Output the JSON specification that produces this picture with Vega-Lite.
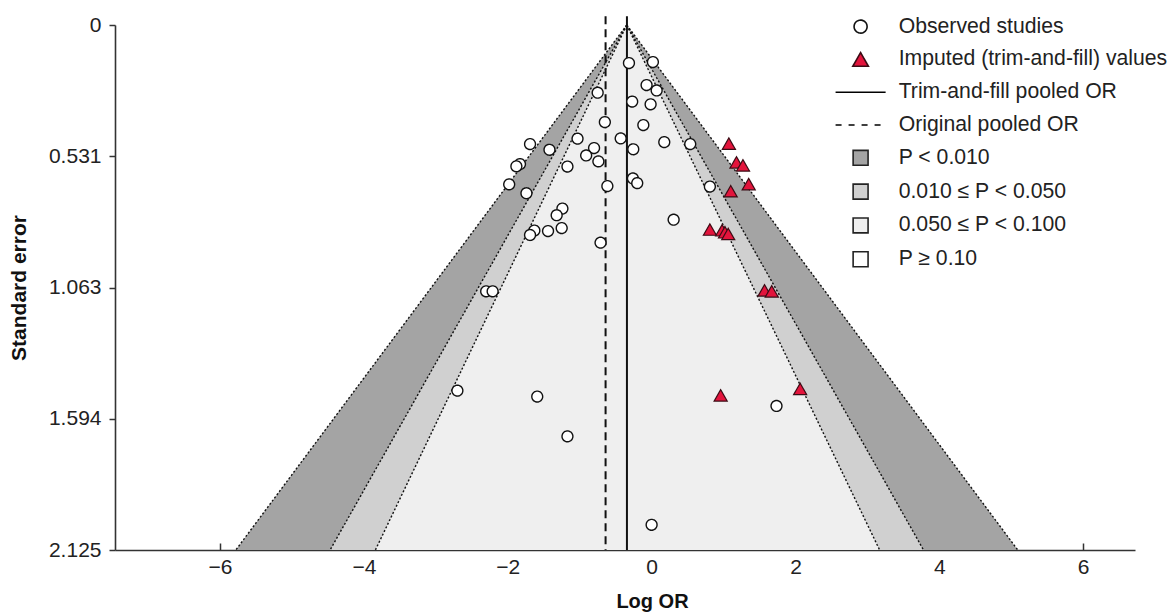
{
  "$schema": "https://vega.github.io/schema/vega-lite/v6.json",
  "autosize": "none",
  "width": 1020,
  "height": 525,
  "padding": {"left": 115, "top": 25, "right": 36, "bottom": 62},
  "background": "white",
  "config": {
    "view": {"stroke": null},
    "font": "Liberation Sans",
    "axis": {
      "grid": false,
      "domainColor": "#333333",
      "domainWidth": 1.6,
      "tickColor": "#333333",
      "tickWidth": 1.5,
      "labelFont": "Liberation Sans",
      "labelFontSize": 21,
      "labelColor": "#222222",
      "titleFont": "Liberation Sans",
      "titleFontSize": 20.5,
      "titleFontWeight": "bold",
      "titleColor": "#111111"
    },
    "legend": {
      "orient": "none",
      "legendX": 735,
      "legendY": -9,
      "padding": 0,
      "rowPadding": 10.8,
      "symbolSize": 169,
      "labelFont": "Liberation Sans",
      "labelFontSize": 21.2,
      "labelColor": "#222222",
      "labelOffset": 27.5,
      "labelLimit": 400,
      "symbolStrokeWidth": 1.6
    }
  },
  "datasets": {
    "bands": [
      {"band": "p01", "se": 0, "lo": -0.345, "hi": -0.345},
      {"band": "p01", "se": 2.125, "lo": -5.78, "hi": 5.09},
      {"band": "p05", "se": 0, "lo": -0.345, "hi": -0.345},
      {"band": "p05", "se": 2.125, "lo": -4.47, "hi": 3.78},
      {"band": "p10", "se": 0, "lo": -0.345, "hi": -0.345},
      {"band": "p10", "se": 2.125, "lo": -3.84, "hi": 3.17}
    ],
    "edges": [
      {"x": -0.345, "se": 0, "xend": -5.78, "seend": 2.125},
      {"x": -0.345, "se": 0, "xend": 5.09, "seend": 2.125},
      {"x": -0.345, "se": 0, "xend": -4.47, "seend": 2.125},
      {"x": -0.345, "se": 0, "xend": 3.78, "seend": 2.125},
      {"x": -0.345, "se": 0, "xend": -3.84, "seend": 2.125},
      {"x": -0.345, "se": 0, "xend": 3.17, "seend": 2.125}
    ],
    "pooled": [
      {"type": "Trim-and-fill pooled OR", "logor": -0.343, "setop": -0.035, "sebottom": 2.125},
      {"type": "Original pooled OR", "logor": -0.64, "setop": -0.035, "sebottom": 2.125}
    ],
    "observed": [
      {"type": "Observed studies", "logor": -0.315, "se": 0.154},
      {"type": "Observed studies", "logor": 0.018, "se": 0.150},
      {"type": "Observed studies", "logor": -0.07, "se": 0.243},
      {"type": "Observed studies", "logor": 0.07, "se": 0.265},
      {"type": "Observed studies", "logor": -0.75, "se": 0.274},
      {"type": "Observed studies", "logor": -0.27, "se": 0.310},
      {"type": "Observed studies", "logor": -0.014, "se": 0.321},
      {"type": "Observed studies", "logor": -0.65, "se": 0.393},
      {"type": "Observed studies", "logor": -0.115, "se": 0.405},
      {"type": "Observed studies", "logor": -1.03, "se": 0.460},
      {"type": "Observed studies", "logor": -1.69, "se": 0.482},
      {"type": "Observed studies", "logor": -1.42, "se": 0.505},
      {"type": "Observed studies", "logor": -0.43, "se": 0.459},
      {"type": "Observed studies", "logor": 0.176, "se": 0.474},
      {"type": "Observed studies", "logor": 0.537, "se": 0.482},
      {"type": "Observed studies", "logor": -0.255, "se": 0.503},
      {"type": "Observed studies", "logor": -0.80, "se": 0.498},
      {"type": "Observed studies", "logor": -0.91, "se": 0.528},
      {"type": "Observed studies", "logor": -0.74, "se": 0.552},
      {"type": "Observed studies", "logor": -1.17, "se": 0.573},
      {"type": "Observed studies", "logor": -1.83, "se": 0.563},
      {"type": "Observed studies", "logor": -1.88, "se": 0.572},
      {"type": "Observed studies", "logor": -1.98, "se": 0.645},
      {"type": "Observed studies", "logor": -1.74, "se": 0.681},
      {"type": "Observed studies", "logor": -0.615, "se": 0.652},
      {"type": "Observed studies", "logor": -0.26, "se": 0.621},
      {"type": "Observed studies", "logor": -0.20, "se": 0.640},
      {"type": "Observed studies", "logor": 0.81, "se": 0.654},
      {"type": "Observed studies", "logor": -1.24, "se": 0.743},
      {"type": "Observed studies", "logor": -1.32, "se": 0.770},
      {"type": "Observed studies", "logor": 0.306, "se": 0.788},
      {"type": "Observed studies", "logor": -1.63, "se": 0.832},
      {"type": "Observed studies", "logor": -1.69, "se": 0.850},
      {"type": "Observed studies", "logor": -1.44, "se": 0.834},
      {"type": "Observed studies", "logor": -1.25, "se": 0.822},
      {"type": "Observed studies", "logor": -0.71, "se": 0.881},
      {"type": "Observed studies", "logor": -2.30, "se": 1.078},
      {"type": "Observed studies", "logor": -2.21, "se": 1.078},
      {"type": "Observed studies", "logor": -2.70, "se": 1.480},
      {"type": "Observed studies", "logor": -1.59, "se": 1.504},
      {"type": "Observed studies", "logor": -1.17, "se": 1.665},
      {"type": "Observed studies", "logor": 0.0, "se": 2.023},
      {"type": "Observed studies", "logor": 1.736, "se": 1.542}
    ],
    "imputed": [
      {"type": "Imputed (trim-and-fill) values", "logor": 1.074, "se": 0.480},
      {"type": "Imputed (trim-and-fill) values", "logor": 1.18, "se": 0.556},
      {"type": "Imputed (trim-and-fill) values", "logor": 1.27, "se": 0.568},
      {"type": "Imputed (trim-and-fill) values", "logor": 1.35, "se": 0.644},
      {"type": "Imputed (trim-and-fill) values", "logor": 1.10, "se": 0.673},
      {"type": "Imputed (trim-and-fill) values", "logor": 0.81, "se": 0.828},
      {"type": "Imputed (trim-and-fill) values", "logor": 0.98, "se": 0.831},
      {"type": "Imputed (trim-and-fill) values", "logor": 1.02, "se": 0.839},
      {"type": "Imputed (trim-and-fill) values", "logor": 1.065, "se": 0.846},
      {"type": "Imputed (trim-and-fill) values", "logor": 1.57, "se": 1.074},
      {"type": "Imputed (trim-and-fill) values", "logor": 1.67, "se": 1.078},
      {"type": "Imputed (trim-and-fill) values", "logor": 0.96, "se": 1.499},
      {"type": "Imputed (trim-and-fill) values", "logor": 2.065, "se": 1.473}
    ]
  },
  "encoding": {
    "y": {
      "type": "quantitative",
      "scale": {"domain": [0, 2.125], "reverse": true, "nice": false, "zero": false},
      "axis": {
        "title": "Standard error",
        "titleFontSize": 21,
        "values": [0, 0.531, 1.063, 1.594, 2.125],
        "format": ".3~f",
        "tickSize": 6,
        "labelPadding": 8,
        "titlePadding": 19
      }
    },
    "x": {
      "type": "quantitative",
      "scale": {"domain": [-7.46, 6.72], "nice": false, "zero": false},
      "axis": {
        "title": "Log OR",
        "titleFontSize": 20,
        "titleX": 537,
        "values": [-6, -4, -2, 0, 2, 4, 6],
        "format": "d",
        "tickSize": -7,
        "labelPadding": 13,
        "titlePadding": 14
      }
    }
  },
  "layer": [
    {
      "data": {"name": "bands"},
      "transform": [{"filter": "datum.band === 'p01'"}],
      "mark": {"type": "area", "orient": "horizontal", "color": "#a4a4a4"},
      "encoding": {"y": {"field": "se"}, "x": {"field": "lo"}, "x2": {"field": "hi"}}
    },
    {
      "data": {"name": "bands"},
      "transform": [{"filter": "datum.band === 'p05'"}],
      "mark": {"type": "area", "orient": "horizontal", "color": "#d0d0d0"},
      "encoding": {"y": {"field": "se"}, "x": {"field": "lo"}, "x2": {"field": "hi"}}
    },
    {
      "data": {"name": "bands"},
      "transform": [{"filter": "datum.band === 'p10'"}],
      "mark": {"type": "area", "orient": "horizontal", "color": "#efefef"},
      "encoding": {"y": {"field": "se"}, "x": {"field": "lo"}, "x2": {"field": "hi"}}
    },
    {
      "data": {"name": "edges"},
      "mark": {"type": "rule", "color": "#111111", "strokeWidth": 1.4, "strokeDash": [2, 2]},
      "encoding": {"x": {"field": "x"}, "y": {"field": "se"}, "x2": {"field": "xend"}, "y2": {"field": "seend"}}
    },
    {
      "data": {"name": "pooled"},
      "transform": [{"filter": "datum.type === 'Trim-and-fill pooled OR'"}],
      "mark": {"type": "rule", "color": "#111111", "strokeWidth": 2},
      "encoding": {"x": {"field": "logor"}, "y": {"field": "setop"}, "y2": {"field": "sebottom"}}
    },
    {
      "data": {"name": "pooled"},
      "transform": [{"filter": "datum.type === 'Original pooled OR'"}],
      "mark": {"type": "rule", "color": "#111111", "strokeWidth": 2, "strokeDash": [8, 5]},
      "encoding": {"x": {"field": "logor"}, "y": {"field": "setop"}, "y2": {"field": "sebottom"}}
    },
    {
      "data": {"name": "observed"},
      "mark": {"type": "point", "filled": true, "opacity": 1, "size": 118, "strokeWidth": 1.4},
      "encoding": {
        "x": {"field": "logor"},
        "y": {"field": "se"},
        "shape": {"field": "type", "type": "nominal", "scale": {"domain": ["Observed studies", "Imputed (trim-and-fill) values", "Trim-and-fill pooled OR", "Original pooled OR", "P < 0.010", "0.010 ≤ P < 0.050", "0.050 ≤ P < 0.100", "P ≥ 0.10"], "range": ["M-1,0A1,1 0 1,1 1,0A1,1 0 1,1 -1,0Z", "M0,-1.05L1.2,1.05L-1.2,1.05Z", "M-3.85,0H3.85", "M-3.85,0H3.85", "M-1.15,-1.15H1.15V1.15H-1.15Z", "M-1.15,-1.15H1.15V1.15H-1.15Z", "M-1.15,-1.15H1.15V1.15H-1.15Z", "M-1.15,-1.15H1.15V1.15H-1.15Z"]}, "legend": {"title": null}},
        "fill": {"field": "type", "type": "nominal", "scale": {"domain": ["Observed studies", "Imputed (trim-and-fill) values", "Trim-and-fill pooled OR", "Original pooled OR", "P < 0.010", "0.010 ≤ P < 0.050", "0.050 ≤ P < 0.100", "P ≥ 0.10"], "range": ["#ffffff", "#e3143c", "#000000", "#000000", "#a4a4a4", "#d0d0d0", "#efefef", "#ffffff"]}, "legend": {"title": null}},
        "stroke": {"field": "type", "type": "nominal", "scale": {"domain": ["Observed studies", "Imputed (trim-and-fill) values", "Trim-and-fill pooled OR", "Original pooled OR", "P < 0.010", "0.010 ≤ P < 0.050", "0.050 ≤ P < 0.100", "P ≥ 0.10"], "range": ["#111111", "#3b0b14", "#000000", "#000000", "#222222", "#222222", "#222222", "#222222"]}, "legend": {"title": null}},
        "strokeDash": {"field": "type", "type": "nominal", "scale": {"domain": ["Observed studies", "Imputed (trim-and-fill) values", "Trim-and-fill pooled OR", "Original pooled OR", "P < 0.010", "0.010 ≤ P < 0.050", "0.050 ≤ P < 0.100", "P ≥ 0.10"], "range": [[1, 0], [1, 0], [1, 0], [6, 7], [1, 0], [1, 0], [1, 0], [1, 0]]}, "legend": {"title": null}}
      }
    },
    {
      "data": {"name": "imputed"},
      "mark": {"type": "point", "filled": true, "opacity": 1, "size": 118, "strokeWidth": 1.2},
      "encoding": {
        "x": {"field": "logor"},
        "y": {"field": "se"},
        "shape": {"field": "type", "type": "nominal"},
        "fill": {"field": "type", "type": "nominal"},
        "stroke": {"field": "type", "type": "nominal"},
        "strokeDash": {"field": "type", "type": "nominal"}
      }
    }
  ]
}
